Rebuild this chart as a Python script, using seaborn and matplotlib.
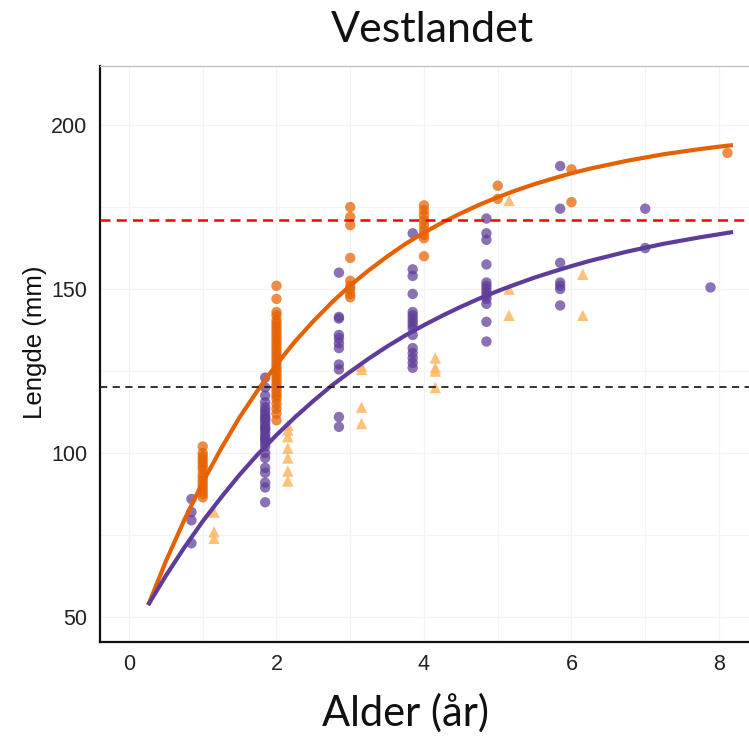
import pandas as pd
import matplotlib
matplotlib.use("Agg")
import matplotlib.pyplot as plt
import seaborn as sns

# Observed lengths (mm) per age (years), one dict per group
group_a = {  # orange circles
    1: [102, 100, 99, 98, 97, 96, 95, 93.5, 92.5, 91.5, 90.5, 89.5, 88.5, 87.5, 86.5],
    2: [151, 147, 143, 142, 140.5, 139.5, 138.5, 137.5, 136.5, 135.5, 134.5, 133.5,
        132.5, 131.5, 130.5, 129.5, 128.5, 127.5, 126.5, 125.5, 124.5, 123.5, 122.5,
        121.5, 120.5, 119.5, 118.5, 117.5, 116.5, 115, 113.5, 112, 110],
    3: [175, 172, 169.5, 159.5, 152.5, 151, 150, 148.5, 147.5],
    4: [175.5, 174, 172.5, 171, 169.5, 168, 166.5, 165.5, 160],
    5: [181.5, 177.5],
    6: [186.5, 176.5],
    8: [191.5],
}
group_b = {  # purple circles
    1: [86, 82, 79.5, 72.5],
    2: [123, 120, 117.5, 115.5, 114, 113, 112, 111, 110.5, 110, 109, 108, 107.5, 107,
        106, 105, 104.5, 104, 103, 102, 100, 98.5, 95.5, 94, 91, 89.5, 85],
    3: [155, 141.5, 141, 136, 135, 133.5, 132, 127, 125.5, 111, 108],
    4: [167, 156, 154, 148.5, 143, 142, 141, 140, 139, 138, 136, 132, 130.5, 129,
        127.5, 126],
    5: [171.5, 167, 165, 157.5, 152, 151, 150, 149, 148, 147, 145.5, 140, 134],
    6: [187.5, 174.5, 158, 152, 151, 150, 145],
    7: [174.5, 162.5],
    8: [150.5],
}
group_c = {  # light triangles
    1: [82, 76, 74],
    2: [108.5, 107, 105, 101.5, 98.5, 94.5, 91.5],
    3: [126.5, 125.5, 114, 109],
    4: [129, 126, 125, 120],
    5: [177, 150, 142],
    6: [154.5, 142],
}

# Fitted growth curves, read at these ages
curve_age = [0.26, 0.5, 0.75, 1, 1.25, 1.5, 1.75, 2, 2.25, 2.5, 2.75, 3, 3.25, 3.5,
             3.75, 4, 4.25, 4.5, 4.75, 5, 5.25, 5.5, 5.75, 6, 6.25, 6.5, 6.75, 7,
             7.25, 7.5, 7.75, 8, 8.19]
curve_a = [53.6, 67.0, 79.6, 91.1, 101.4, 110.9, 119.3, 127.0, 134.0, 140.2, 145.9,
           151.1, 155.7, 159.9, 163.8, 167.2, 170.3, 173.1, 175.7, 178.0, 180.1,
           182.0, 183.7, 185.3, 186.7, 187.9, 189.1, 190.1, 191.1, 191.9, 192.7,
           193.4, 193.9]
curve_b = [53.7, 62.6, 71.2, 79.2, 86.5, 93.4, 99.7, 105.5, 110.9, 115.9, 120.6,
           124.8, 128.8, 132.5, 135.9, 139.0, 141.9, 144.6, 147.1, 149.4, 151.5,
           153.5, 155.3, 157.0, 158.6, 160.0, 161.4, 162.6, 163.8, 164.8, 165.8,
           166.7, 167.4]

ref_upper = 171
ref_lower = 120

x_ticks = [0, 2, 4, 6, 8]
y_ticks = [50, 100, 150, 200]

# ---- tidy tables -------------------------------------------------------
groups = [("B", group_b), ("A", group_a), ("C", group_c)]
rows = []
for name, d in groups:
    for age, vals in d.items():
        for v in vals:
            rows.append({"group": name, "age": age, "length": v})
pts = pd.DataFrame(rows)

# dodge points of different groups sharing an age (like position_dodge)
dodge_width = 0.46
order = {"B": 0, "A": 1, "C": 2}
def dodged(r):
    present = sorted(pts.loc[pts.age == r.age, "group"].unique(), key=order.get)
    n = len(present)
    i = present.index(r.group)
    return r.age - dodge_width / 2 + dodge_width / n * (i + 0.5) if n > 1 else r.age
pts["x"] = pts.apply(dodged, axis=1)

curves = pd.DataFrame({
    "age": curve_age * 2,
    "length": curve_a + curve_b,
    "group": ["A"] * len(curve_age) + ["B"] * len(curve_age),
})

# ---- drawing -----------------------------------------------------------
sns.set_style("white")
plt.rcParams["font.family"] = ["Liberation Sans", "DejaVu Sans"]

orange, purple, light = "#e66101", "#5e3c99", "#fdb863"

fig = plt.figure(figsize=(7.49, 7.36), dpi=100)
ax = fig.add_axes([100 / 749, 1 - 642 / 736, 649 / 749, 576 / 736])

ax.set_xlim(-0.393, 8.407)
ax.set_ylim(42.4, 218.0)

for gx in range(0, 9):
    ax.axvline(gx, color="#f3f3f3", lw=0.9, zorder=0)
for gy in range(50, 226, 25):
    ax.axhline(gy, color="#f3f3f3", lw=0.9, zorder=0)

circles = pts[pts.group != "C"]
tri = pts[pts.group == "C"]
sns.scatterplot(data=circles, x="x", y="length", hue="group",
                palette={"A": orange, "B": purple}, marker="o", s=56,
                alpha=0.72, edgecolor="none", legend=False, ax=ax, zorder=3)
sns.scatterplot(data=tri, x="x", y="length", color=light, marker="^", s=68,
                alpha=0.85, edgecolor="none", legend=False, ax=ax, zorder=3)

sns.lineplot(data=curves, x="age", y="length", hue="group",
             palette={"A": orange, "B": purple}, linewidth=3.0, legend=False,
             ax=ax, zorder=4, solid_capstyle="butt", solid_joinstyle="round")

ax.axhline(ref_upper, color="#ff0000", lw=1.8, ls=(0, (4, 2.5)), zorder=5)
ax.axhline(ref_lower, color="#222222", lw=1.3, ls=(0, (4, 3)), zorder=5)

ax.set_xticks(x_ticks)
ax.set_yticks(y_ticks)
ax.tick_params(axis="both", direction="out", length=5, width=1.3,
               labelsize=15.5, labelcolor="#222222", color="#222222", pad=4)
for side in ["left", "bottom"]:
    ax.spines[side].set_linewidth(1.6)
    ax.spines[side].set_color("#111111")
ax.spines["right"].set_visible(False)
ax.spines["top"].set_color("#bbbbbb")
ax.spines["top"].set_linewidth(0.8)

ax.set_xlabel("")
ax.set_ylabel("")
fig.text(35 / 749, 1 - 342 / 736, "Lengde (mm)", rotation=90, ha="center",
         va="center", fontsize=18.5, color="#111111")
fig.text(405 / 749, 1 - 713 / 736, "Alder (år)", ha="center", va="center",
         fontsize=30, color="#111111", family=["Lato", "DejaVu Sans"])
fig.text(432 / 749, 1 - 30 / 736, "Vestlandet", ha="center", va="center",
         fontsize=31, color="#111111", family=["Lato", "DejaVu Sans"])

fig.savefig("out.png", dpi=100)
